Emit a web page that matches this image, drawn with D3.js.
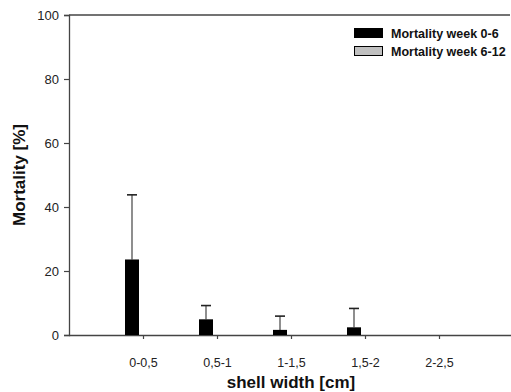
<!DOCTYPE html>
<html>
<head>
<meta charset="utf-8">
<script src="https://cdn.jsdelivr.net/npm/d3@7"></script>
<style>
  body { margin: 0; background: #fff; }
  svg { display: block; font-family: "Liberation Sans", Arial, sans-serif; }
</style>
</head>
<body>
<svg id="chart" width="511" height="392"></svg>
<script>
// categories (shell width classes) and series
const categories = ["0-0,5", "0,5-1", "1-1,5", "1,5-2", "2-2,5"];
const week0to6 = [23.6, 4.9, 1.6, 2.4, 0];
const week0to6Err = [20.2, 4.3, 4.3, 5.9, 0];
const week6to12 = [0, 0, 0, 0, 0];
const seriesNames = ["Mortality week 0-6", "Mortality week 6-12"];
const yTicks = [0, 20, 40, 60, 80, 100];

const svg = d3.select("#chart");
const plotLeft = 69, plotRight = 513, plotTop = 15, plotBottom = 335;

// x: class positions 1..5 on a 0..6 range
const x = d3.scaleLinear().domain([0, 6]).range([plotLeft, plotRight]);
const y = d3.scaleLinear().domain([0, 100]).range([plotBottom, plotTop]);

const barW = 14, gap = 4;

// frame top line
svg.append("line")
  .attr("x1", plotLeft).attr("x2", plotRight - 3)
  .attr("y1", plotTop).attr("y2", plotTop)
  .attr("stroke", "#444").attr("stroke-width", 1.3);

// y axis
const yAxis = svg.append("g")
  .attr("transform", `translate(${plotLeft},0)`)
  .call(d3.axisLeft(y).tickValues(yTicks).tickSize(5).tickPadding(5));
yAxis.select(".domain").attr("stroke", "#444").attr("stroke-width", 1.3);
yAxis.selectAll(".tick line").attr("stroke", "#444").attr("stroke-width", 1.2);
yAxis.selectAll(".tick text").attr("font-size", 13).attr("fill", "#222")
  .attr("font-family", "Liberation Sans, Arial, sans-serif");

// x axis
const xAxis = svg.append("g")
  .attr("transform", `translate(0,${plotBottom})`)
  .call(d3.axisBottom(x).tickValues([1, 2, 3, 4, 5])
    .tickFormat(d => categories[d - 1]).tickSize(4).tickPadding(19));
xAxis.select(".domain").attr("stroke", "#444").attr("stroke-width", 1.3)
  .attr("d", `M${plotLeft},0.5H${plotRight}`);
xAxis.selectAll(".tick line").attr("stroke", "#444").attr("stroke-width", 1.2);
xAxis.selectAll(".tick text").attr("font-size", 12.5).attr("fill", "#222")
  .attr("font-family", "Liberation Sans, Arial, sans-serif");

// error bars (upper only)
const err = svg.append("g");
categories.forEach((c, i) => {
  if (week0to6Err[i] <= 0) return;
  const cx = x(i + 1) - gap - barW / 2;
  err.append("line")
    .attr("x1", cx).attr("x2", cx)
    .attr("y1", y(week0to6[i])).attr("y2", y(week0to6[i] + week0to6Err[i]))
    .attr("stroke", "#444").attr("stroke-width", 1.2);
  err.append("line")
    .attr("x1", cx - 5).attr("x2", cx + 5)
    .attr("y1", y(week0to6[i] + week0to6Err[i])).attr("y2", y(week0to6[i] + week0to6Err[i]))
    .attr("stroke", "#222").attr("stroke-width", 1.6);
});

// bars week 0-6
svg.append("g").selectAll("rect")
  .data(week0to6)
  .enter().append("rect")
  .attr("x", (d, i) => x(i + 1) - gap - barW)
  .attr("y", d => y(d))
  .attr("width", barW)
  .attr("height", d => plotBottom - y(d))
  .attr("fill", "#000");

// bars week 6-12 (all zero, so nothing shows above the axis)
svg.append("g").selectAll("rect")
  .data(week6to12)
  .enter().append("rect")
  .attr("x", (d, i) => x(i + 1) + gap)
  .attr("y", d => y(d))
  .attr("width", barW)
  .attr("height", d => plotBottom - y(d))
  .attr("fill", "#c0c0c0");

// legend
const legend = svg.append("g");
seriesNames.forEach((name, i) => {
  const ly = 28 + i * 18;
  legend.append("rect")
    .attr("x", 354.5).attr("y", ly + 0.5)
    .attr("width", 28).attr("height", 9)
    .attr("fill", i === 0 ? "#000" : "#c0c0c0")
    .attr("stroke", "#000");
  legend.append("text")
    .attr("x", 391).attr("y", ly + 9.5)
    .attr("font-size", 12.5).attr("font-weight", "bold").attr("fill", "#111")
    .text(name);
});

// axis titles
svg.append("text")
  .attr("transform", `translate(25,${(plotTop + plotBottom) / 2}) rotate(-90)`)
  .attr("text-anchor", "middle")
  .attr("font-size", 17).attr("font-weight", "bold").attr("fill", "#111")
  .text("Mortality [%]");
svg.append("text")
  .attr("x", (plotLeft + plotRight) / 2).attr("y", 388)
  .attr("text-anchor", "middle")
  .attr("font-size", 17).attr("font-weight", "bold").attr("fill", "#111")
  .text("shell width [cm]");
</script>
</body>
</html>
